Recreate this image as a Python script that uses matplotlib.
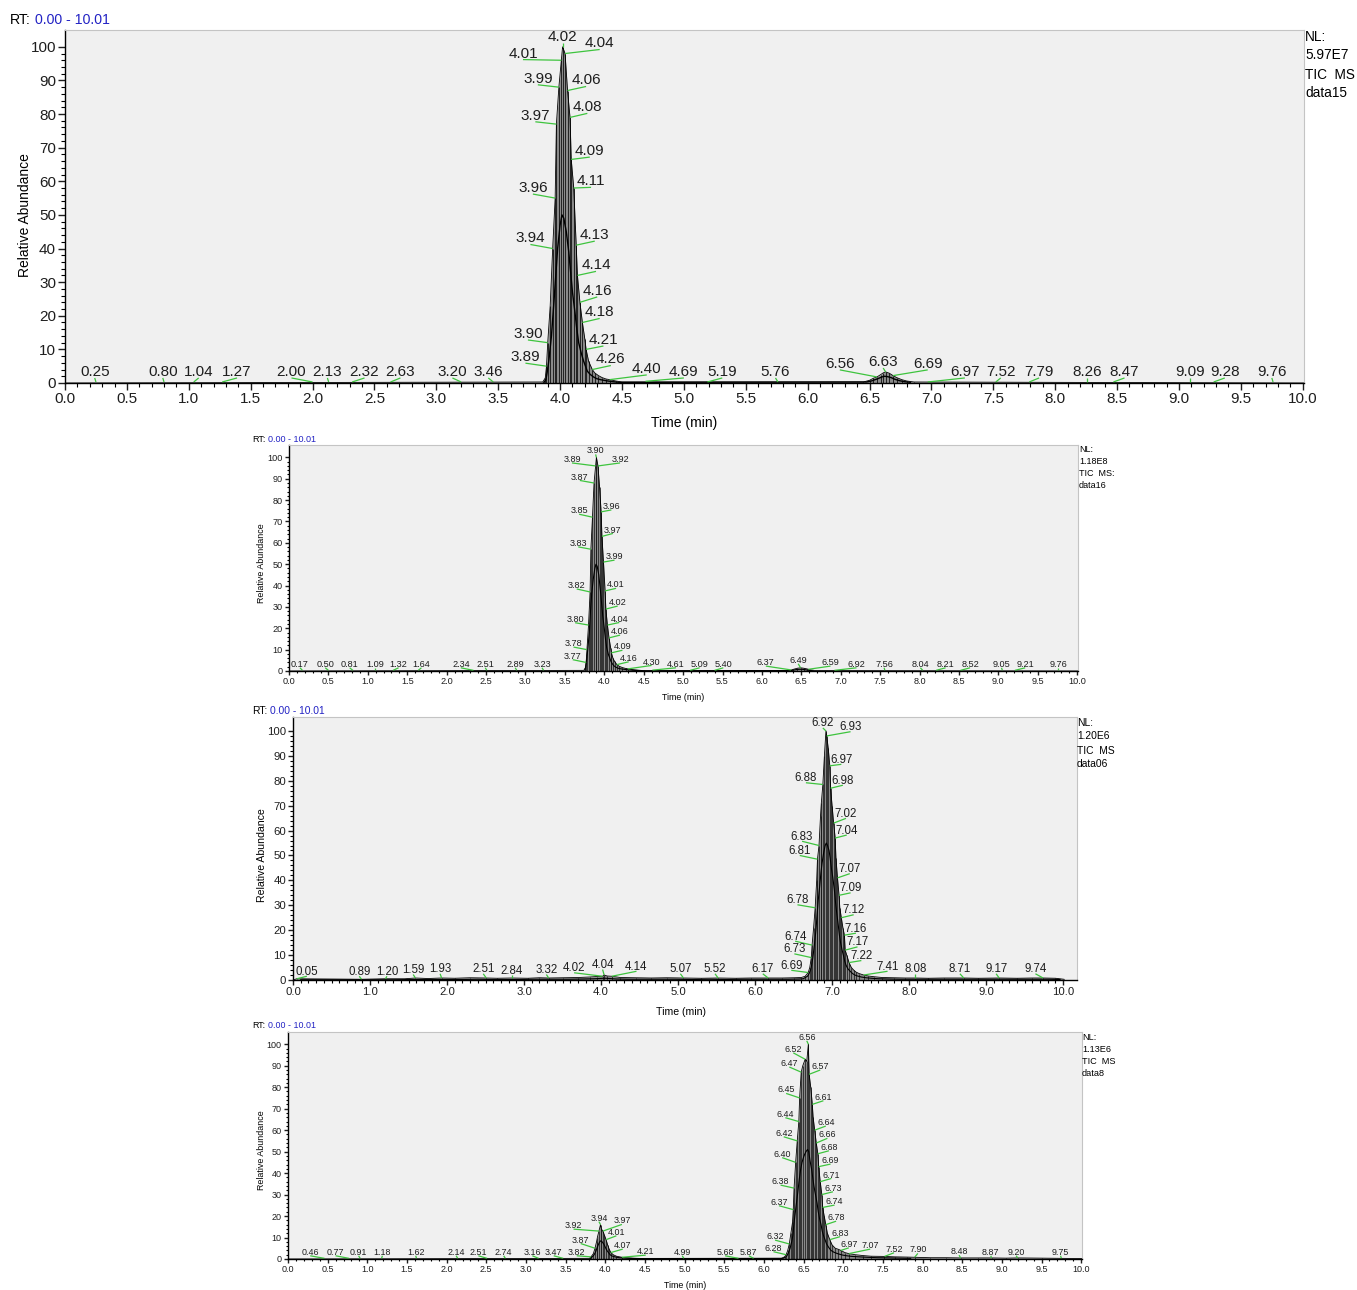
"""Cuatro cromatogramas TIC (data15, data16, data06, data8) apilados."""

import matplotlib
matplotlib.use("Agg")
import matplotlib.pyplot as plt
import numpy as np
from matplotlib import font_manager

W, H = 1357, 1290

# ---------------- data15 ----------------
p1_hi_rt = [0.0, 3.86, 3.88, 3.89, 3.90, 3.92, 3.94, 3.96, 3.97, 3.99, 4.01, 4.02, 4.04, 4.06, 4.08,
            4.09, 4.11, 4.13, 4.14, 4.16, 4.18, 4.20, 4.21, 4.23, 4.26, 4.28, 4.31, 4.34, 4.37, 4.40,
            4.45, 4.50, 6.45, 6.50, 6.53, 6.56, 6.59, 6.61, 6.63, 6.66, 6.69, 6.72, 6.76, 6.80, 6.86, 10.01]
p1_hi_ab = [0, 0.3, 1.5, 5, 12, 23, 40, 55, 77, 88, 96, 100, 98, 87, 79,
            66.5, 58, 41, 32, 24, 18, 13, 10, 6.5, 4, 3, 2.2, 1.6, 1.2, 1.0,
            0.6, 0.3, 0.3, 0.8, 1.4, 1.8, 2.5, 3.0, 3.3, 2.9, 2.2, 1.6, 1.0, 0.6, 0.3, 0]
p1_lo_rt = [3.87, 3.885, 3.895, 3.91, 3.93, 3.95, 3.965, 3.98, 4.00, 4.015, 4.03, 4.05, 4.07, 4.085,
            4.10, 4.12, 4.135, 4.15, 4.17, 4.19, 4.205, 4.22, 4.245, 4.27, 4.295, 4.325, 4.355, 4.385,
            4.425, 4.475, 6.475, 6.515, 6.545, 6.575, 6.60, 6.62, 6.645, 6.675, 6.705, 6.74, 6.78, 6.83]
p1_lo_ab = [0.2, 1, 3, 7, 14, 24, 32, 40, 47, 50, 49, 45, 39, 33,
            27, 21, 16, 12, 9, 6.5, 5, 3.5, 2.5, 1.8, 1.3, 1.0, 0.8, 0.6,
            0.4, 0.2, 0.3, 0.6, 1.0, 1.4, 1.8, 2.0, 1.9, 1.6, 1.1, 0.7, 0.4, 0.2]
p1_lab = ["0.25", "0.80", "1.04", "1.27", "2.00", "2.13", "2.32", "2.63", "3.20", "3.46",
          "3.89", "3.90", "3.94", "3.96", "3.97", "3.99", "4.01", "4.02", "4.04", "4.06",
          "4.08", "4.09", "4.11", "4.13", "4.14", "4.16", "4.18", "4.21", "4.26", "4.40",
          "4.69", "5.19", "5.76", "6.56", "6.63", "6.69", "6.97", "7.52", "7.79", "8.26",
          "8.47", "9.09", "9.28", "9.76"]
p1_lab_ab = [0.3, 0.3, 0.3, 0.3, 0.3, 0.3, 0.3, 0.3, 0.3, 0.3,
             5, 12, 40, 55, 77, 88, 96, 100, 98, 87,
             79, 66.5, 58, 41, 32, 24, 18, 10, 4, 1.0,
             0.5, 0.3, 0.3, 1.8, 3.3, 2.2, 0.3, 0.3, 0.3, 0.3,
             0.3, 0.3, 0.3, 0.3]
p1_lab_x = [0.24, 0.79, 1.08, 1.39, 1.83, 2.12, 2.42, 2.71, 3.13, 3.42,
            3.72, 3.74, 3.76, 3.78, 3.80, 3.82, 3.70, 4.02, 4.32, 4.21,
            4.22, 4.24, 4.25, 4.28, 4.29, 4.30, 4.32, 4.35, 4.41, 4.70,
            5.00, 5.31, 5.74, 6.26, 6.61, 6.97, 7.27, 7.56, 7.87, 8.26,
            8.56, 9.09, 9.37, 9.75]
p1_lab_y = [3.3] * 10 + [7.7, 14.6, 43, 58, 79.5, 90.5, 98, 103, 101, 90,
                         82, 69, 60, 44, 35, 27.4, 21, 12.8, 7, 4.2,
                         3.3, 3.3, 3.3, 5.7, 6.25, 5.7, 3.3, 3.3, 3.3, 3.3,
                         3.3, 3.3, 3.3, 3.3]
p1_nl = ["NL:", "5.97E7", "TIC  MS", "data15"]

# ---------------- data16 ----------------
p2_hi_rt = [0.0, 3.74, 3.76, 3.77, 3.78, 3.80, 3.82, 3.83, 3.85, 3.87, 3.89, 3.90, 3.92, 3.94, 3.96,
            3.97, 3.99, 4.01, 4.02, 4.04, 4.06, 4.08, 4.09, 4.11, 4.13, 4.16, 4.19, 4.23, 4.27, 4.30,
            4.35, 4.40, 4.46, 4.52, 6.35, 6.40, 6.45, 6.49, 6.53, 6.57, 6.62, 6.68, 10.01]
p2_hi_ab = [0, 0.3, 1.5, 4, 10, 21.5, 37, 57, 72, 88, 96, 100, 96, 86, 74.5,
            63, 51, 37.5, 29, 21.5, 15.5, 11, 8.5, 6, 4.5, 3, 2.2, 1.6, 1.2, 1.0,
            0.7, 0.5, 0.3, 0.1, 0.2, 0.8, 1.3, 1.5, 1.3, 1.0, 0.5, 0.2, 0]
p2_lo_rt = [3.755, 3.765, 3.775, 3.79, 3.81, 3.825, 3.84, 3.86, 3.88, 3.895, 3.91, 3.93, 3.95, 3.965,
            3.98, 4.00, 4.015, 4.03, 4.05, 4.07, 4.085, 4.10, 4.12, 4.145, 4.175, 4.21, 4.25, 4.285,
            4.325, 4.375, 4.43, 4.49, 6.375, 6.425, 6.47, 6.51, 6.55, 6.595, 6.65]
p2_lo_ab = [0.5, 2, 5, 10, 18, 28, 36, 43, 48, 50, 49, 45, 38, 32,
            26, 20, 15, 11, 8, 6, 4.5, 3.5, 2.5, 1.8, 1.3, 1.0, 0.8, 0.6,
            0.5, 0.3, 0.2, 0.1, 0.2, 0.6, 0.8, 0.8, 0.6, 0.3, 0.1]
p2_lab = ["0.17", "0.50", "0.81", "1.09", "1.32", "1.64", "2.34", "2.51", "2.89", "3.23",
          "3.77", "3.78", "3.80", "3.82", "3.83", "3.85", "3.87", "3.89", "3.90", "3.92",
          "3.96", "3.97", "3.99", "4.01", "4.02", "4.04", "4.06", "4.09", "4.16", "4.30",
          "4.61", "5.09", "5.40", "6.37", "6.49", "6.59", "6.92", "7.56", "8.04", "8.21",
          "8.52", "9.05", "9.21", "9.76"]
p2_lab_ab = [0.3] * 10 + [4, 10, 21.5, 37, 57, 72, 88, 96, 100, 96,
                          74.5, 63, 51, 37.5, 29, 21.5, 15.5, 8.5, 3, 1.0,
                          0.4, 0.3, 0.3, 0.5, 1.5, 0.8, 0.3, 0.3, 0.3, 0.3,
                          0.3, 0.3, 0.3, 0.3]
p2_lab_x = [0.14, 0.46, 0.77, 1.09, 1.39, 1.68, 2.18, 2.49, 2.87, 3.21,
            3.60, 3.61, 3.63, 3.65, 3.67, 3.68, 3.69, 3.59, 3.89, 4.20,
            4.09, 4.11, 4.13, 4.15, 4.17, 4.19, 4.20, 4.23, 4.31, 4.60,
            4.91, 5.21, 5.51, 6.05, 6.46, 6.87, 7.20, 7.55, 8.01, 8.33,
            8.64, 9.04, 9.34, 9.76]
p2_lab_y = [3.1] * 10 + [6.9, 12.8, 24.2, 40, 59.7, 75, 90.8, 99, 103, 99,
                         77, 66, 53.5, 40.3, 32, 24.3, 18.4, 11.3, 5.9, 4.2,
                         3.1, 3.1, 3.1, 3.9, 5.0, 3.9, 3.1, 3.1, 3.1, 3.1,
                         3.1, 3.1, 3.1, 3.1]
p2_nl = ["NL:", "1.18E8", "TIC  MS:", "data16"]

# ---------------- data06 ----------------
p3_hi_rt = [0.0, 0.05, 0.89, 1.20, 1.45, 1.59, 1.75, 1.93, 2.10, 2.30, 2.51, 2.65, 2.84, 3.05, 3.20,
            3.32, 3.50, 3.70, 3.85, 3.95, 4.02, 4.04, 4.08, 4.14, 4.25, 4.45, 4.65, 4.85, 5.07, 5.30,
            5.52, 5.75, 5.95, 6.17, 6.35, 6.50, 6.60, 6.65, 6.69, 6.71, 6.73, 6.74, 6.76, 6.78, 6.80,
            6.81, 6.83, 6.85, 6.86, 6.88, 6.90, 6.92, 6.93, 6.95, 6.97, 6.98, 7.00, 7.02, 7.04, 7.05,
            7.07, 7.09, 7.10, 7.12, 7.14, 7.16, 7.17, 7.19, 7.22, 7.25, 7.28, 7.31, 7.35, 7.41, 7.47,
            7.55, 7.65, 7.80, 7.95, 8.08, 8.25, 8.45, 8.71, 8.90, 9.17, 9.40, 9.60, 9.74, 9.90, 10.01]
p3_hi_ab = [0, 0.5, 0.3, 0.5, 0.5, 0.8, 0.6, 0.8, 0.7, 0.9, 0.8, 0.7, 0.8, 0.7, 0.9,
            0.8, 0.9, 1.0, 1.2, 1.4, 1.5, 2.0, 1.6, 1.5, 1.0, 0.9, 0.8, 0.9, 0.8, 0.7,
            0.8, 0.7, 0.8, 0.8, 0.8, 0.9, 1.0, 1.5, 3, 5, 9, 14, 21, 29, 40,
            48.5, 54, 66, 71, 78.5, 90, 100, 98, 93, 86, 77, 70, 63, 57, 49,
            41, 34, 29, 25, 21, 18, 12, 10, 7, 5, 4, 3.2, 2.6, 2.0, 1.6,
            1.3, 1.0, 0.9, 0.8, 0.8, 0.7, 0.8, 0.8, 0.7, 0.8, 0.7, 0.8, 0.8, 0.7, 0.3]
p3_lo_rt = [0.10, 0.95, 1.30, 1.52, 1.67, 1.84, 2.02, 2.20, 2.40, 2.58, 2.75, 2.95, 3.12, 3.26, 3.41,
            3.60, 3.78, 3.90, 3.98, 4.03, 4.06, 4.11, 4.20, 4.35, 4.55, 4.75, 4.96, 5.18, 5.41, 5.63,
            5.85, 6.06, 6.26, 6.43, 6.57, 6.625, 6.68, 6.70, 6.72, 6.735, 6.75, 6.77, 6.79, 6.805, 6.82,
            6.84, 6.855, 6.87, 6.89, 6.91, 6.925, 6.94, 6.96, 6.975, 6.99, 7.01, 7.03, 7.045, 7.06, 7.08,
            7.095, 7.11, 7.13, 7.15, 7.165, 7.18, 7.205, 7.235, 7.265, 7.295, 7.33, 7.38, 7.44, 7.51, 7.60,
            7.72, 7.88, 8.02, 8.16, 8.35, 8.58, 8.80, 9.04, 9.28, 9.50, 9.67, 9.82, 9.96]
p3_lo_ab = [0.1, 0.1, 0.1, 0.2, 0.2, 0.2, 0.2, 0.2, 0.3, 0.2, 0.2, 0.2, 0.3, 0.3, 0.3,
            0.3, 0.4, 0.5, 0.6, 0.7, 0.7, 0.6, 0.4, 0.3, 0.3, 0.3, 0.3, 0.2, 0.3, 0.2,
            0.3, 0.3, 0.3, 0.3, 0.4, 0.5, 1.5, 2.5, 4, 6, 9, 14, 20, 26, 32,
            38, 43, 47, 51, 54, 55, 54, 52, 49, 45, 41, 36, 31, 27, 22,
            18, 15, 12, 9.5, 7.5, 6, 4.5, 3.5, 2.6, 2.0, 1.6, 1.2, 0.9, 0.7, 0.5,
            0.4, 0.3, 0.3, 0.3, 0.3, 0.3, 0.3, 0.3, 0.3, 0.3, 0.3, 0.3, 0.2]
p3_lab = ["0.05", "0.89", "1.20", "1.59", "1.93", "2.51", "2.84", "3.32", "4.02", "4.04",
          "4.14", "5.07", "5.52", "6.17", "6.69", "6.73", "6.74", "6.78", "6.81", "6.83",
          "6.88", "6.92", "6.93", "6.97", "6.98", "7.02", "7.04", "7.07", "7.09", "7.12",
          "7.16", "7.17", "7.22", "7.41", "8.08", "8.71", "9.17", "9.74"]
p3_lab_ab = [0.5, 0.3, 0.5, 0.8, 0.8, 0.8, 0.8, 0.8, 1.5, 2.0,
             1.5, 0.8, 0.8, 0.8, 3, 9, 14, 29, 48.5, 54,
             78.5, 100, 98, 86, 77, 63, 57, 41, 34, 25,
             18, 12, 7, 2.0, 0.8, 0.8, 0.8, 0.8]
p3_lab_x = [0.18, 0.86, 1.22, 1.56, 1.91, 2.47, 2.84, 3.29, 3.65, 4.02,
            4.46, 5.03, 5.48, 6.10, 6.47, 6.51, 6.52, 6.55, 6.58, 6.61,
            6.66, 6.88, 7.24, 7.12, 7.14, 7.18, 7.19, 7.23, 7.24, 7.28,
            7.31, 7.33, 7.38, 7.72, 8.08, 8.66, 9.13, 9.64]
p3_lab_y = [3.3, 3.3, 3.3, 4.0, 4.3, 4.3, 3.8, 4.0, 4.7, 6.0,
            5.3, 4.3, 4.3, 4.3, 5.7, 12.3, 17.4, 32, 51.8, 57.5,
            81, 103, 101.5, 88.4, 80, 66.7, 60, 44.5, 36.8, 28,
            20.6, 15.1, 9.6, 5.3, 4.3, 4.3, 4.3, 4.3]
p3_nl = ["NL:", "1.20E6", "TIC  MS", "data06"]

# ---------------- data8 ----------------
p4_hi_rt = [0.0, 3.80, 3.82, 3.85, 3.87, 3.89, 3.90, 3.92, 3.94, 3.95, 3.97, 3.99, 4.01, 4.03, 4.05,
            4.07, 4.10, 4.14, 4.21, 4.30, 4.40, 4.50, 6.22, 6.26, 6.28, 6.30, 6.32, 6.34, 6.36, 6.37,
            6.38, 6.40, 6.42, 6.44, 6.45, 6.47, 6.49, 6.52, 6.54, 6.56, 6.57, 6.59, 6.61, 6.62, 6.64,
            6.66, 6.68, 6.69, 6.71, 6.73, 6.74, 6.76, 6.78, 6.80, 6.83, 6.86, 6.90, 6.94, 6.97, 7.02,
            7.07, 7.15, 7.25, 7.35, 7.52, 7.65, 7.80, 7.90, 8.10, 8.30, 8.48, 8.70, 8.87, 9.05, 9.20,
            9.50, 9.75, 10.01]
p4_hi_ab = [0, 0.3, 1, 2.5, 5, 8, 10, 13, 16, 14, 13, 11, 9, 6.5, 4.5,
            3, 2, 1.3, 0.8, 0.5, 0.3, 0.2, 0.3, 1, 2, 4, 7, 12, 17, 23,
            33, 45, 55, 64, 75, 87, 90, 93, 92, 100, 86, 80, 72, 66, 60,
            54, 49, 43, 36, 30, 24, 20, 16, 12, 9, 6.5, 5, 4.5, 4, 3,
            2.5, 2, 1.6, 1.3, 1.2, 1.0, 0.9, 0.8, 0.6, 0.6, 0.5, 0.5, 0.5, 0.4, 0.5,
            0.4, 0.3, 0.2]
p4_lo_rt = [3.81, 3.835, 3.86, 3.88, 3.895, 3.91, 3.93, 3.945, 3.96, 3.98, 4.00, 4.02, 4.04, 4.06,
            4.085, 4.12, 4.175, 4.255, 4.35, 6.24, 6.27, 6.29, 6.31, 6.33, 6.35, 6.365, 6.375, 6.39,
            6.41, 6.43, 6.445, 6.46, 6.48, 6.505, 6.53, 6.55, 6.565, 6.58, 6.60, 6.615, 6.63, 6.65,
            6.67, 6.685, 6.70, 6.72, 6.735, 6.75, 6.77, 6.79, 6.815, 6.845, 6.88, 6.92, 6.955, 6.995,
            7.045, 7.11, 7.20, 7.30, 7.43, 7.58, 7.72, 7.85]
p4_lo_ab = [0.2, 1, 2, 3.5, 5, 6.5, 8, 8.5, 8, 7, 5.5, 4, 3, 2,
            1.4, 1, 0.6, 0.4, 0.2, 0.3, 0.8, 1.5, 3, 5, 8, 11, 15, 20,
            26, 32, 37, 41, 45, 48, 50, 51, 50, 46, 42, 38, 34, 30,
            26, 22, 19, 16, 13, 11, 9, 7, 5.5, 4, 3.2, 2.6, 2.2, 1.8,
            1.5, 1.2, 1.0, 0.8, 0.6, 0.5, 0.4, 0.3]
p4_lab = ["0.46", "0.77", "0.91", "1.18", "1.62", "2.14", "2.51", "2.74", "3.16", "3.47",
          "3.82", "3.87", "3.92", "3.94", "3.97", "4.01", "4.07", "4.21", "4.99", "5.68",
          "5.87", "6.28", "6.32", "6.37", "6.38", "6.40", "6.42", "6.44", "6.45", "6.47",
          "6.52", "6.56", "6.57", "6.61", "6.64", "6.66", "6.68", "6.69", "6.71", "6.73",
          "6.74", "6.78", "6.83", "6.97", "7.07", "7.52", "7.90", "8.48", "8.87", "9.20",
          "9.75"]
p4_lab_ab = [0.3] * 10 + [1, 5, 13, 16, 13, 9, 3, 0.8, 0.3, 0.3,
                          0.3, 2, 7, 23, 33, 45, 55, 64, 75, 87,
                          93, 100, 86, 72, 60, 54, 49, 43, 36, 30,
                          24, 16, 9, 4, 2.5, 1.2, 0.8, 0.5, 0.5, 0.5,
                          0.3]
p4_lab_x = [0.28, 0.60, 0.89, 1.19, 1.61, 2.12, 2.40, 2.72, 3.08, 3.35,
            3.64, 3.69, 3.60, 3.92, 4.21, 4.14, 4.22, 4.51, 4.97, 5.51,
            5.81, 6.12, 6.14, 6.19, 6.21, 6.23, 6.25, 6.27, 6.28, 6.32,
            6.37, 6.54, 6.71, 6.75, 6.78, 6.80, 6.82, 6.84, 6.85, 6.87,
            6.89, 6.91, 6.96, 7.07, 7.34, 7.64, 7.94, 8.46, 8.86, 9.18,
            9.74]
p4_lab_y = [3.1] * 10 + [3.1, 8.8, 15.5, 19, 17.7, 12.4, 6.2, 3.4, 3.1, 3.1,
                         3.1, 5.0, 10.4, 26.4, 36, 48.8, 58.5, 67.4, 78.7, 91,
                         97.6, 103.2, 89.6, 75.3, 63.5, 57.8, 52, 45.8, 39.1, 32.9,
                         26.7, 19.2, 12, 6.8, 6.2, 4.5, 4.2, 3.4, 3.1, 3.1,
                         3.1]
p4_nl = ["NL:", "1.13E6", "TIC  MS", "data8"]


def pick_font(*names):
    avail = {f.name for f in font_manager.fontManager.ttflist}
    for n in names:
        if n in avail:
            return n
    return "DejaVu Sans"


SANS = pick_font("Liberation Sans", "Arial", "DejaVu Sans")
GREEN = "#3ec43e"
BLUE = "#2222c4"


def fx(px):
    return px / W


def fy(py):
    return 1 - py / H


def draw_panel(fig, hi_rt, hi_ab, lo_rt, lo_ab, lab, lab_ab, lab_x, lab_y, nl, st):
    l, t, r, b = st["box"]
    ax = fig.add_axes([fx(l), fy(b), (r - l) / W, (b - t) / H])
    ax.set_facecolor("#f0f0f0")

    hr, ha = np.asarray(hi_rt, float), np.asarray(hi_ab, float)
    o = np.argsort(hr)
    hr, ha = hr[o], ha[o]
    lr, la = np.asarray(lo_rt, float), np.asarray(lo_ab, float)
    o = np.argsort(lr)
    lr, la = lr[o], la[o]
    # barras de cada barrido + envolvente interior
    ax.fill_between(hr, 0, ha, color="#8a8a8a", lw=0)
    ax.vlines(hr, 0, ha, color="#111111", lw=st["vl"])
    ax.plot(hr, ha, color="black", lw=0.6)
    ax.plot(lr, la, color="black", lw=st["lo_lw"])

    dy = st["dy"]
    for s, a, x, y in zip(lab, lab_ab, lab_x, lab_y):
        ax.plot([float(s), x], [a, y - dy], color=GREEN, lw=0.9, solid_capstyle="butt")
        ax.text(x, y, s, ha="center", va="center", fontsize=st["fs"], family=SANS,
                color="#1e1e1e")

    ax.set_xlim(0, st["xmax"])
    ax.set_ylim(0, st["ymax"])
    for side in ("top", "right"):
        ax.spines[side].set_color("#c4c4c4")
    for side in ("left", "bottom"):
        ax.spines[side].set_color("black")
        ax.spines[side].set_linewidth(1.0)

    xt = np.arange(0, 10.001, st["xmaj"])
    ax.set_xticks(xt)
    ax.set_xticklabels([f"{v:.1f}" for v in xt], fontsize=st["tfs"], family=SANS)
    ax.set_xticks(np.arange(0, 10.001, 0.1), minor=True)
    yt = np.arange(0, 101, 10)
    ax.set_yticks(yt)
    ax.set_yticklabels([str(v) for v in yt], fontsize=st["tfs"], family=SANS)
    ax.set_yticks(np.arange(0, 101, 2), minor=True)
    ax.tick_params(which="major", direction="out", length=st["tl"], width=1, pad=1.5,
                   colors="#1e1e1e")
    ax.tick_params(which="minor", direction="out", length=st["tl"] * 0.55, width=0.8)

    # textos de cabecera y ejes
    rx, bx, ry = st["rt"]
    fig.text(fx(rx), fy(ry), "RT:", fontsize=st["hfs"], family=SANS, va="center")
    fig.text(fx(bx), fy(ry), "0.00 - 10.01", fontsize=st["hfs"], family=SANS,
             va="center", color=BLUE)
    nx, nys = st["nl"]
    for line, ny in zip(nl, nys):
        fig.text(fx(nx), fy(ny), line, fontsize=st["nfs"], family=SANS, va="center")
    yx, yy = st["ylab"]
    fig.text(fx(yx), fy(yy), "Relative Abundance", fontsize=st["lfs"], family=SANS,
             rotation=90, ha="center", va="center")
    xx, xy = st["xlab"]
    fig.text(fx(xx), fy(xy), "Time (min)", fontsize=st["lfs"], family=SANS,
             ha="center", va="center")
    return ax


fig = plt.figure(figsize=(W / 100, H / 100), dpi=100)

st1 = dict(box=(65, 30, 1304, 383), xmax=10.01, ymax=105.0, fs=11.0, tfs=11.0, hfs=10.2,
           nfs=9.8, lfs=10, dy=1.8, xmaj=0.5, tl=5, vl=0.6, lo_lw=1.0,
           rt=(10, 35, 20), nl=(1305, [37, 55, 75, 93]), ylab=(25, 215), xlab=(684, 423))
st2 = dict(box=(289, 445, 1078, 671), xmax=10.01, ymax=105.8, fs=6.6, tfs=6.6, hfs=6.5,
           nfs=6.5, lfs=6.4, dy=1.6, xmaj=0.5, tl=3, vl=0.5, lo_lw=0.8,
           rt=(252, 268, 439), nl=(1079, [450, 462, 473, 485]), ylab=(262, 563), xlab=(683, 697))
st3 = dict(box=(293, 717, 1077, 980), xmax=10.18, ymax=105.6, fs=8.3, tfs=8.2, hfs=7.4,
           nfs=7.4, lfs=7.6, dy=1.8, xmaj=1.0, tl=3.5, vl=0.5, lo_lw=0.8,
           rt=(252, 270, 711), nl=(1077, [723, 736, 751, 764]), ylab=(262, 855), xlab=(681, 1012))
st4 = dict(box=(288, 1032, 1082, 1259), xmax=10.01, ymax=105.7, fs=6.4, tfs=6.5, hfs=6.4,
           nfs=6.6, lfs=6.4, dy=1.6, xmaj=0.5, tl=3, vl=0.5, lo_lw=0.8,
           rt=(252, 268, 1026), nl=(1082, [1037, 1049, 1061, 1073]), ylab=(261, 1150),
           xlab=(685, 1285))

draw_panel(fig, p1_hi_rt, p1_hi_ab, p1_lo_rt, p1_lo_ab, p1_lab, p1_lab_ab, p1_lab_x, p1_lab_y, p1_nl, st1)
draw_panel(fig, p2_hi_rt, p2_hi_ab, p2_lo_rt, p2_lo_ab, p2_lab, p2_lab_ab, p2_lab_x, p2_lab_y, p2_nl, st2)
draw_panel(fig, p3_hi_rt, p3_hi_ab, p3_lo_rt, p3_lo_ab, p3_lab, p3_lab_ab, p3_lab_x, p3_lab_y, p3_nl, st3)
draw_panel(fig, p4_hi_rt, p4_hi_ab, p4_lo_rt, p4_lo_ab, p4_lab, p4_lab_ab, p4_lab_x, p4_lab_y, p4_nl, st4)

fig.savefig("out.png", dpi=100, facecolor="white")
plt.close(fig)
